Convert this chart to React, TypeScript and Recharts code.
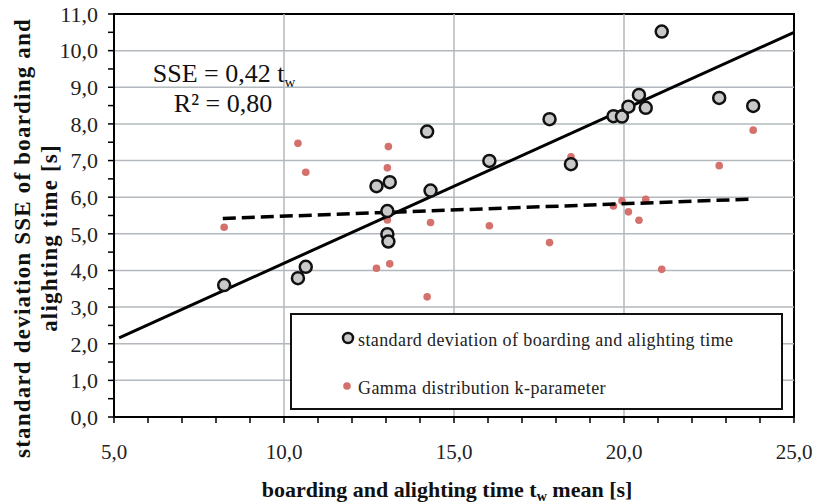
import React from 'react';
import {
  ScatterChart,
  Scatter,
  XAxis,
  YAxis,
  ReferenceLine,
  ReferenceArea,
  Legend,
} from 'recharts';

// boarding and alighting time t_w mean [s]
const meanTime = [
  8.24, 10.41, 10.64, 12.72, 13.04, 13.04, 13.07, 13.11, 14.21, 14.31, 16.04,
  17.81, 18.44, 19.69, 19.94, 20.13, 20.44, 20.64, 21.11, 22.8, 23.8,
];
// standard deviation SSE [s]
const stdDev = [
  3.6, 3.79, 4.1, 6.3, 5.62, 4.99, 4.79, 6.41, 7.79, 6.18, 6.99,
  8.13, 6.9, 8.21, 8.2, 8.47, 8.79, 8.44, 10.52, 8.71, 8.49,
];
// Gamma distribution k-parameter
const kParam = [
  5.18, 7.47, 6.68, 4.06, 5.38, 6.8, 7.38, 4.18, 3.28, 5.31, 5.22,
  4.76, 7.1, 5.76, 5.9, 5.6, 5.37, 5.94, 4.03, 6.86, 7.83,
];

// trend lines (end points)
const sseTrendX = [5.15, 25.0];
const sseTrendY = [2.16, 10.5];
const kTrendX = [8.2, 23.8];
const kTrendY = [5.42, 5.95];

const xTicks = [5, 6, 7, 8, 9, 10, 11, 12, 13, 14, 15, 16, 17, 18, 19, 20, 21, 22, 23, 24, 25];
const xLabelled = [5, 10, 15, 20, 25];
const yTicks = [
  0, 0.5, 1, 1.5, 2, 2.5, 3, 3.5, 4, 4.5, 5, 5.5, 6, 6.5, 7, 7.5, 8, 8.5, 9, 9.5, 10, 10.5, 11,
];
const xGrid = [10, 15, 20];
const yGrid = [1, 2, 3, 4, 5, 6, 7, 8, 9, 10];

const legendNames = [
  'standard deviation of boarding and alighting time',
  'Gamma distribution k-parameter',
];

const zip = (xs: number[], ys: number[]) => xs.map((x, i) => ({ x, y: ys[i] }));

const sdData = zip(meanTime, stdDev);
const kData = zip(meanTime, kParam);
const sseTrend = zip(sseTrendX, sseTrendY);
const kTrend = zip(kTrendX, kTrendY);

const SERIF = '"Liberation Serif", "Times New Roman", serif';
const GRID = '#b2b8bd';
const DOT_RED = '#d4716c';
const CIRCLE_FILL = '#c9c9c9';

const fmt = (v: number) => v.toFixed(1).replace('.', ',');

const OpenCircle = (props: any) => {
  const { cx, cy } = props;
  if (cx == null || cy == null) return <g />;
  return <circle cx={cx} cy={cy} r={6} fill={CIRCLE_FILL} stroke="#111" strokeWidth={2.5} />;
};

const RedDot = (props: any) => {
  const { cx, cy } = props;
  if (cx == null || cy == null) return <g />;
  return <circle cx={cx} cy={cy} r={3.8} fill={DOT_RED} />;
};

const NoShape = () => <g />;

const YTitle = () => (
  <text
    transform="translate(0,238) rotate(-90)"
    textAnchor="middle"
    fontFamily={SERIF}
    fontWeight="bold"
    fontSize={23}
    letterSpacing={1.2}
    fill="#111"
  >
    <tspan x={0} y={30}>standard deviation SSE of boarding and</tspan>
    <tspan x={0} y={57}>alighting time [s]</tspan>
  </text>
);

const XTitle = () => (
  <text x={447} y={497} textAnchor="middle" fontFamily={SERIF} fontWeight="bold" fontSize={22} fill="#111">
    <tspan>boarding and alighting time t</tspan>
    <tspan fontSize={14} dy={4}>w</tspan>
    <tspan dy={-4}> mean [s]</tspan>
  </text>
);

const LegendBox = () => (
  <svg width={493} height={97} style={{ display: 'block' }}>
    <rect x={1} y={1} width={491} height={95} fill="#fff" stroke="#111" strokeWidth={2} />
    <circle cx={58} cy={25} r={5} fill={CIRCLE_FILL} stroke="#111" strokeWidth={2.5} />
    <text x={68} y={33} fontFamily={SERIF} fontSize={18} letterSpacing={0.4} fill="#222">
      {legendNames[0]}
    </text>
    <circle cx={57} cy={73} r={3.8} fill={DOT_RED} />
    <text x={68} y={81} fontFamily={SERIF} fontSize={18} letterSpacing={0.4} fill="#222">
      {legendNames[1]}
    </text>
  </svg>
);

export default function App() {
  return (
    <div style={{ position: 'absolute', left: 0, top: 0, width: 819, height: 503, background: '#fff' }}>
      <ScatterChart width={819} height={503} margin={{ top: 14, right: 25, left: 0, bottom: 0 }}>
        {xGrid.map((v) => (
          <ReferenceLine key={`gx${v}`} x={v} stroke={GRID} strokeWidth={1.5} />
        ))}
        {yGrid.map((v) => (
          <ReferenceLine key={`gy${v}`} y={v} stroke={GRID} strokeWidth={1.5} />
        ))}
        <XAxis
          type="number"
          dataKey="x"
          domain={[5, 25]}
          ticks={xTicks}
          interval={0}
          height={86}
          tickSize={6}
          tickMargin={21}
          axisLine={{ stroke: '#000', strokeWidth: 2 }}
          tickLine={{ stroke: '#000', strokeWidth: 1.5 }}
          tick={{ fill: '#222', fontSize: 21, fontFamily: SERIF }}
          tickFormatter={(v: number) => (xLabelled.includes(v) ? fmt(v) : '')}
          label={<XTitle />}
        />
        <YAxis
          type="number"
          dataKey="y"
          domain={[0, 11]}
          ticks={yTicks}
          interval={0}
          width={114}
          tickSize={6}
          tickMargin={10}
          axisLine={{ stroke: '#000', strokeWidth: 2 }}
          tickLine={{ stroke: '#000', strokeWidth: 1.5 }}
          tick={{ fill: '#222', fontSize: 22, fontFamily: SERIF }}
          tickFormatter={(v: number) => (Number.isInteger(v) ? fmt(v) : '')}
          label={<YTitle />}
        />
        <ReferenceArea x1={5} x2={25} y1={0} y2={11} fill="none" stroke="#000" strokeWidth={2} />
        <Scatter data={kData} shape={<RedDot />} isAnimationActive={false} />
        <Scatter
          data={kTrend}
          shape={<NoShape />}
          line={{ stroke: '#000', strokeWidth: 3.5, strokeDasharray: '13 6' }}
          isAnimationActive={false}
        />
        <Scatter
          data={sseTrend}
          shape={<NoShape />}
          line={{ stroke: '#000', strokeWidth: 3 }}
          isAnimationActive={false}
        />
        <Scatter data={sdData} shape={<OpenCircle />} isAnimationActive={false} />
        <Legend
          verticalAlign="middle"
          align="center"
          content={<LegendBox />}
          wrapperStyle={{ left: 290, top: 313, width: 493, height: 97 }}
        />
      </ScatterChart>
      <svg
        width={819}
        height={503}
        style={{ position: 'absolute', left: 0, top: 0, pointerEvents: 'none' }}
      >
        <text x={224} y={82} textAnchor="middle" fontFamily={SERIF} fontSize={26} fill="#111">
          <tspan>SSE = 0,42 t</tspan>
          <tspan fontSize={15} dy={5}>w</tspan>
        </text>
        <text x={223} y={112} textAnchor="middle" fontFamily={SERIF} fontSize={26} fill="#111">
          R² = 0,80
        </text>
      </svg>
    </div>
  );
}
